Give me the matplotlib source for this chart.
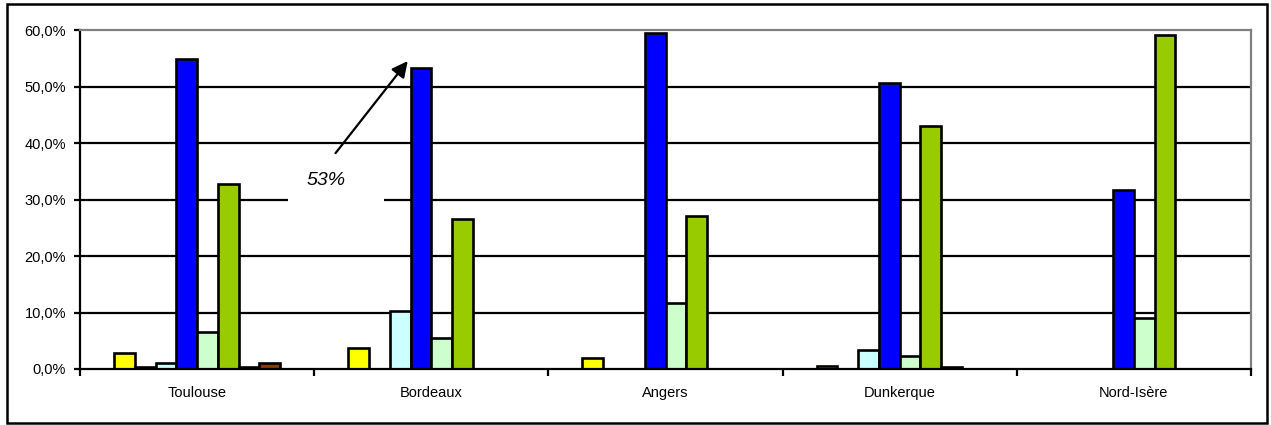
import matplotlib
matplotlib.use("Agg")
import matplotlib.pyplot as plt
from matplotlib.patches import Rectangle
from matplotlib.ticker import FuncFormatter, MultipleLocator
import numpy as np

plt.rcParams["font.family"] = ["Liberation Sans", "DejaVu Sans"]

# Sites
categories = ["Toulouse", "Bordeaux", "Angers", "Dunkerque", "Nord-Isère"]

# Share per site (%) for each of the eight series
serie_1 = [2.9, 3.8, 1.9, 0.5, 0.0]
serie_2 = [0.4, 0.0, 0.0, 0.0, 0.0]
serie_3 = [1.0, 10.3, 0.0, 3.4, 0.0]
serie_4 = [54.8, 53.3, 59.5, 50.6, 31.6]
serie_5 = [6.6, 5.5, 11.7, 2.3, 9.0]
serie_6 = [32.7, 26.5, 27.0, 43.0, 59.1]
serie_7 = [0.4, 0.0, 0.0, 0.4, 0.0]
serie_8 = [1.0, 0.0, 0.0, 0.0, 0.0]

series = [serie_1, serie_2, serie_3, serie_4, serie_5, serie_6, serie_7, serie_8]
colors = ["#FFFF00", "#333399", "#CCFFFF", "#0000FF",
          "#CCFFCC", "#99CC00", "#660066", "#993300"]

y_ticks = [0, 10, 20, 30, 40, 50, 60]
annot_text = "53%"
annot_site = 1       # Bordeaux
annot_series = 3     # blue series

W, H, DPI = 1271, 425, 100
fig = plt.figure(figsize=(W / DPI, H / DPI), dpi=DPI)
ax = fig.add_axes([80 / W, 1 - 369 / H, (1251 - 80) / W, (369 - 30) / H])

x = np.arange(len(categories))
n = len(series)
w = 0.0886

# horizontal gridlines (the top one is the frame)
ax.hlines(y_ticks[1:-1], -0.5, len(categories) - 0.5, colors="black",
          linewidth=1.6, zorder=1)

for i, (vals, col) in enumerate(zip(series, colors)):
    ax.bar(x + (i - (n - 1) / 2) * w, vals, width=w, color=col,
           edgecolor="black", linewidth=1.9, zorder=3)

ax.set_xlim(-0.5, len(categories) - 0.5)
ax.set_ylim(y_ticks[0], y_ticks[-1])

ax.yaxis.set_major_locator(MultipleLocator(10))
ax.yaxis.set_major_formatter(FuncFormatter(lambda v, p: f"{v:.1f}%".replace(".", ",")))
ax.tick_params(axis="y", direction="out", length=4, width=1.6, pad=6,
               labelsize=10.5, colors="black")

ax.set_xticks(x)
ax.set_xticklabels(categories)
ax.set_xticks(np.arange(len(categories) + 1) - 0.5, minor=True)
ax.tick_params(axis="x", which="major", length=0, pad=12, labelsize=10.5)
ax.tick_params(axis="x", which="minor", direction="out", length=5, width=1.6)

for side in ("left", "bottom"):
    ax.spines[side].set_color("black")
    ax.spines[side].set_linewidth(1.6)
for side in ("top", "right"):
    ax.spines[side].set_color("#808080")
    ax.spines[side].set_linewidth(1.6)
for sp in ax.spines.values():
    sp.set_zorder(4)

# callout on the Bordeaux blue bar
target_val = series[annot_series][annot_site]
bar_left = annot_site + (annot_series - (n - 1) / 2) * w - w / 2
ax.add_patch(Rectangle((0.386, 26), 0.414, 10, facecolor="white",
                       edgecolor="none", zorder=2))
ax.text(0.553, 33.4, annot_text, fontsize=14, style="italic",
        ha="center", va="center", zorder=5)
ax.annotate("", xy=(bar_left - 0.012, target_val + 1.2), xytext=(0.591, 38.2),
            arrowprops=dict(arrowstyle="-|>", mutation_scale=24, lw=1.6,
                            color="black", shrinkA=0, shrinkB=0),
            zorder=6)

# outer frame
fig.patches.append(Rectangle((7 / W, 2 / H), (1267 - 7) / W, (421 - 2) / H,
                             transform=fig.transFigure, fill=False,
                             edgecolor="black", linewidth=1.8))

fig.savefig("out.png", dpi=DPI, facecolor="white")
